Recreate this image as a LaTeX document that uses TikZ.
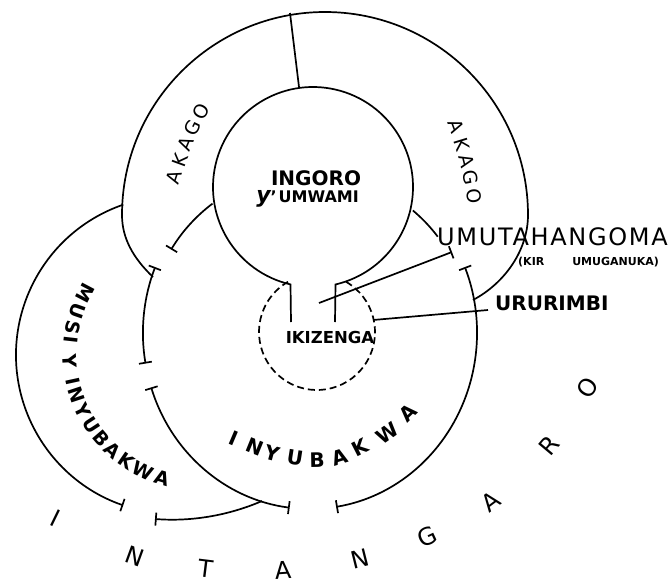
\documentclass[tikz,border=0pt]{standalone}
\usepackage{fontspec}
\setmainfont{DejaVu Sans}
\usetikzlibrary{arrows.meta,calc}

\begin{document}
\begin{tikzpicture}[x=1pt,y=-1pt,>={Bar[width=13pt]},
  wall/.style={line width=1.7pt},
  akago letter/.style={inner sep=0pt,font=\fontsize{19}{19}\selectfont},
  musi letter/.style={inner sep=0pt,font=\bfseries\fontsize{19}{19}\selectfont},
  inyu letter/.style={inner sep=0pt,font=\bfseries\fontsize{20}{20}\selectfont},
  yard letter/.style={inner sep=0pt,font=\fontsize{24}{24}\selectfont},
  name tag/.style={inner sep=0pt}]
\useasboundingbox (0,0) rectangle (672,584);
\fill[white] (0,0) rectangle (672,584);
\coordinate (ingoroC) at (313,187);
\coordinate (inyC) at (310,333);
\coordinate (musiC) at (175,355);
\coordinate (musiTextC) at (200,354);
\coordinate (ikzC) at (317,332);
% ingoro, open towards ikizenga
\draw[wall] (291,322) -- ([shift={(103:100)}]ingoroC) arc[start angle=103,end angle=437,radius=100] -- (335,322);
\draw[wall] (290,13) -- (299,87);
% akago
\draw[wall] (153,277) .. controls (133,258) and (122,238) .. (122,215)
  arc[start angle=180,end angle=360,radius=203]
  .. controls (528,250) and (505,283) .. (473,300);
\draw[wall,->] ([shift={(233:162)}]inyC) arc[start angle=233,end angle=211,radius=162];
\draw[wall] ([shift={(310:160)}]inyC) arc[start angle=310,end angle=323,radius=160];
% inyubakwa
\draw[wall,<->] ([shift={(202:167 and 176)}]inyC) arc[start angle=202,end angle=170,x radius=167,y radius=176];
\draw[wall,<->] ([shift={(162:167 and 176)}]inyC) arc[start angle=162,end angle=97,x radius=167,y radius=176];
\draw[wall,<->] ([shift={(81:167 and 176)}]inyC) arc[start angle=81,end angle=-22,x radius=167,y radius=176];
% musi y inyubakwa
\draw[wall,->] ([shift={(251:159)}]musiC) arc[start angle=251,end angle=109,radius=159];
\draw[wall,<-] (155,519) .. controls (195,522) and (232,514) .. (262,501);
% ikizenga
\draw[wall,dash pattern=on 7pt off 4pt] ([shift={(300:58)}]ikzC) arc[start angle=300,end angle=600,radius=58];

\node[name tag,font=\bfseries\fontsize{20}{20}\selectfont] (ingoro) at (316,178) {INGORO};
\node[name tag,anchor=base east,font=\bfseries\fontsize{16}{16}\selectfont] (umwami) at (359,202)
  {{\fontsize{22}{22}\selectfont\itshape y}'\hspace{2pt}UMWAMI};
\node[name tag,anchor=base,font=\bfseries\fontsize{16.5}{16.5}\selectfont] (ikizenga) at (330,343) {IKIZENGA};
\node[name tag,anchor=base west,font=\fontsize{24}{24}\selectfont\addfontfeature{LetterSpace=7}] (umutaha) at (437,245) {UMUTAHANGOMA};
\node[name tag,anchor=base west,font=\bfseries\fontsize{11}{11}\selectfont] (kir) at (518,265) {(KIR\hspace{28pt}UMUGANUKA)};
\node[name tag,anchor=base west,font=\bfseries\fontsize{20}{20}\selectfont] (ururimbi) at (495,310) {URURIMBI};

\coordinate (umutahaFoot) at (319,303);
\draw[wall,->] (umutahaFoot) -- ($(umutaha.base west)+(15,7)$);
\draw[wall] ([shift={(348:58)}]ikzC) -- ($(ururimbi.base west)+(-7,0)$);

% letters round the rings
\foreach \x/\y/\r/\l [count=\i] in {174/177/72/A,180/160/70/K,186/144/67/A,193/128/64/G,201/112/61/O}
  \node[akago letter,rotate=\r] (akagoW\i) at (\x,\y) {\l};
\foreach \x/\y/\r/\l [count=\i] in {456/126/-70/A,462/144/-73/K,467/161/-76/A,471/178/-80/G,474/196/-84/O}
  \node[akago letter,rotate=\r] (akagoE\i) at (\x,\y) {\l};
\foreach \a/\l [count=\i] in {207.7/M,199.2/U,191.9/S,186.4/I,177.0/Y,167.7/I,161.7/N,154.2/Y,
  146.9/U,139.3/B,132.0/A,124.6/K,115.8/W,107.0/A}
  \node[musi letter,rotate=90-\a] (musi\i) at ([shift={(\a:130)}]musiTextC) {\l};
\foreach \x/\y/\r/\l [count=\i] in {234/438/-23/I,255/447/-22/N,272/453/-15/Y,295/458/-9/U,317/460/1/B,
  340/457/17/A,360/447/27/K,387/433/35/W,408/413/44/A}
  \node[inyu letter,rotate=\r] (inyu\i) at (\x,\y) {\l};
\foreach \x/\y/\r/\l [count=\i] in {56/518/-26/I,135/556/-20/N,206/569/-7/T,283/570/4/A,360/559/14/N,
  427/537/25/G,491/502/37/A,549/445/50/R,588/388/56/O}
  \node[yard letter,rotate=\r] (yard\i) at (\x,\y) {\l};
\end{tikzpicture}
\end{document}
